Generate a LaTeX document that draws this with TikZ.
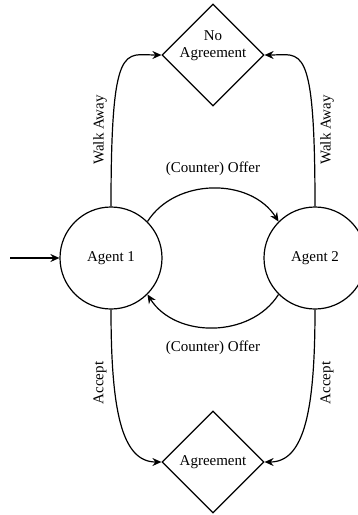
\documentclass[tikz,border=0pt]{standalone}
\usepackage{fontspec}
\setmainfont{Liberation Serif}
\usetikzlibrary{shapes.geometric,arrows.meta}
\begin{document}
\begin{tikzpicture}[x=1pt,y=-1pt,
  every node/.style={font=\fontsize{15}{17}\selectfont},
  agent/.style={circle,draw,line width=1.2pt,minimum size=102pt,inner sep=0pt},
  outcome/.style={diamond,draw,line width=1.2pt,minimum width=102pt,minimum height=102pt,inner sep=0pt},
  conn/.style={line width=1.2pt,-{Stealth[length=9pt,width=8pt,inset=3pt]}},
  lbl/.style={inner sep=1pt}]
\useasboundingbox (0,0) rectangle (358,515);
\node[agent] (a1) at (111,258) {Agent 1};
\node[agent] (a2) at (315,258) {Agent 2};
\node[outcome] (na) at (213,55) {};
\node[lbl,align=center] (natext) at (213,46) {No\\Agreement};
\node[outcome] (ag) at (213,462) {Agreement};
\coordinate (start) at (10,258);
\draw[conn] (start) -- (a1.west);
\draw[conn] (a1.north) .. controls +(0,-167) and +(-37,0) .. (na.west);
\draw[conn] (a2.north) .. controls +(0,-167) and +(37,0) .. (na.east);
\draw[conn] (a1.south) .. controls +(0,100) and +(-40,0) .. (ag.west);
\draw[conn] (a2.south) .. controls +(0,100) and +(40,0) .. (ag.east);
\draw[conn] (a1.45) .. controls +(28,-44) and +(-28,-44) .. (a2.135);
\draw[conn] (a2.225) .. controls +(-28,44) and +(28,44) .. (a1.315);
\node[lbl] (o1) at (213,169) {(Counter) Offer};
\node[lbl] (o2) at (213,348) {(Counter) Offer};
\node[lbl,rotate=90] (w1) at (100,130) {Walk Away};
\node[lbl,rotate=90] (w2) at (327,130) {Walk Away};
\node[lbl,rotate=90] (c1) at (100,383) {Accept};
\node[lbl,rotate=90] (c2) at (327,383) {Accept};
\end{tikzpicture}
\end{document}
